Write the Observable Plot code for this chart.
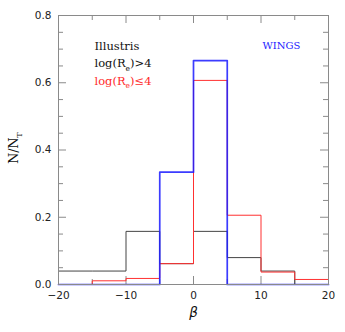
<!DOCTYPE html>
<html><head><meta charset="utf-8">
<script src="https://cdn.jsdelivr.net/npm/d3@7"></script>
<script src="https://cdn.jsdelivr.net/npm/@observablehq/plot@0.6"></script>
<style>body{margin:0;background:#fff}</style>
</head><body><div id="chart"></div>
<script>
// bin edges (beta)
const binEdges = [-20, -15, -10, -5, 0, 5, 10, 15, 20];
// N/N_T per bin (8 bins)
const illustrisHigh = [0.040, 0.040, 0.158, 0.062, 0.158, 0.080, 0.040, 0.000]; // log(Re)>4, black
const illustrisLow  = [0.000, 0.011, 0.018, 0.062, 0.607, 0.206, 0.037, 0.015]; // log(Re)<=4, red
const wings         = [0.000, 0.000, 0.000, 0.334, 0.666, 0.000, 0.000, 0.000]; // WINGS, blue

const xTickLabels = [-20, -10, 0, 10, 20];
const xMinorTicks = [-15, -5, 5, 15];
const yTickLabels = [0, 0.2, 0.4, 0.6, 0.8];
const yMinorTicks = [0.05, 0.1, 0.15, 0.25, 0.3, 0.35, 0.45, 0.5, 0.55, 0.65, 0.7, 0.75];

const legendLabels = ["Illustris", "log(R_e)>4", "log(R_e)≤4"];
const legendColors = ["#111", "#111", "#ff2a2a"];
const wingsLabel = "WINGS";
const xLabel = "β";
const yLabel = "N/N_T";

const W = 345, H = 332;
const mL = 58, mR = 17, mT = 15, mB = 48;
const plotW = W - mL - mR, plotH = H - mT - mB;
const frameColor = "#8a8a8a";

const steps = vals => binEdges.map((x, i) => ({x, y: vals[Math.min(i, vals.length - 1)]}));

const legendMarks = legendLabels.map((t, i) => Plot.text([t], {
  text: d => d, frameAnchor: "top-left", textAnchor: "start", lineAnchor: "middle",
  dx: 36, dy: 30.5 + i * 17.5, fill: legendColors[i],
  fontFamily: "DejaVu Serif", fontSize: 11.5
}));

const chart = Plot.plot({
  width: W, height: H,
  marginLeft: mL, marginRight: mR, marginTop: mT, marginBottom: mB,
  style: {fontFamily: "DejaVu Sans", fontSize: "10.5px", background: "#fff"},
  x: {domain: [-20, 20]},
  y: {domain: [0, 0.8]},
  marks: [
    // inner ticks (bottom/top)
    Plot.tickX(xTickLabels, {x: d => d, insetTop: plotH - 8, stroke: frameColor}),
    Plot.tickX(xTickLabels, {x: d => d, insetBottom: plotH - 8, stroke: frameColor}),
    Plot.tickX(xMinorTicks, {x: d => d, insetTop: plotH - 5, stroke: frameColor}),
    Plot.tickX(xMinorTicks, {x: d => d, insetBottom: plotH - 5, stroke: frameColor}),
    // inner ticks (left/right)
    Plot.tickY(yTickLabels, {y: d => d, insetRight: plotW - 8, stroke: frameColor}),
    Plot.tickY(yTickLabels, {y: d => d, insetLeft: plotW - 8, stroke: frameColor}),
    Plot.tickY(yMinorTicks, {y: d => d, insetRight: plotW - 5, stroke: frameColor}),
    Plot.tickY(yMinorTicks, {y: d => d, insetLeft: plotW - 5, stroke: frameColor}),
    Plot.axisX({ticks: xTickLabels, tickSize: 0, tickPadding: 7.5, label: null, color: "#222"}),
    Plot.axisY({ticks: yTickLabels, tickSize: 0, tickPadding: 7, label: null, color: "#222"}),
    // histograms
    Plot.line(steps(illustrisHigh), {x: "x", y: "y", curve: "step-after", stroke: "#444", strokeWidth: 1}),
    Plot.line(steps(illustrisLow), {x: "x", y: "y", curve: "step-after", stroke: "#ff3030", strokeWidth: 1}),
    Plot.line(steps(wings), {x: "x", y: "y", curve: "step-after", stroke: "#1a1aff", strokeWidth: 1.7, strokeOpacity: 0.85}),
    Plot.frame({stroke: frameColor}),
    ...legendMarks,
    Plot.text([wingsLabel], {text: d => d, frameAnchor: "top-left", textAnchor: "start", lineAnchor: "middle",
      dx: 204, dy: 30.5, fill: "#1a1aff", fontFamily: "DejaVu Serif", fontSize: 10}),
    Plot.text([xLabel], {text: d => d, frameAnchor: "bottom", lineAnchor: "middle", dy: 28.5,
      fontStyle: "italic", fontFamily: "DejaVu Sans", fontSize: 13.5, fill: "#111"}),
    Plot.text([yLabel], {text: d => d, frameAnchor: "left", lineAnchor: "middle", textAnchor: "middle", rotate: -90,
      dx: -44.5, dy: -2, fontFamily: "DejaVu Serif", fontSize: 12.5, fill: "#111"})
  ]
});

// render "_x" as a subscript
d3.select(chart).selectAll("text").each(function () {
  if (this.querySelector("tspan")) return;
  const s = this.textContent;
  const m = s.match(/^(.*)_(\w)(.*)$/);
  if (!m) return;
  const t = d3.select(this);
  t.text(null);
  t.append("tspan").text(m[1]);
  t.append("tspan").attr("font-size", "65%").attr("dy", "0.45em").text(m[2]);
  if (m[3]) t.append("tspan").attr("dy", "-0.2925em").text(m[3]);
});

document.getElementById("chart").append(chart);
</script>
</body></html>
